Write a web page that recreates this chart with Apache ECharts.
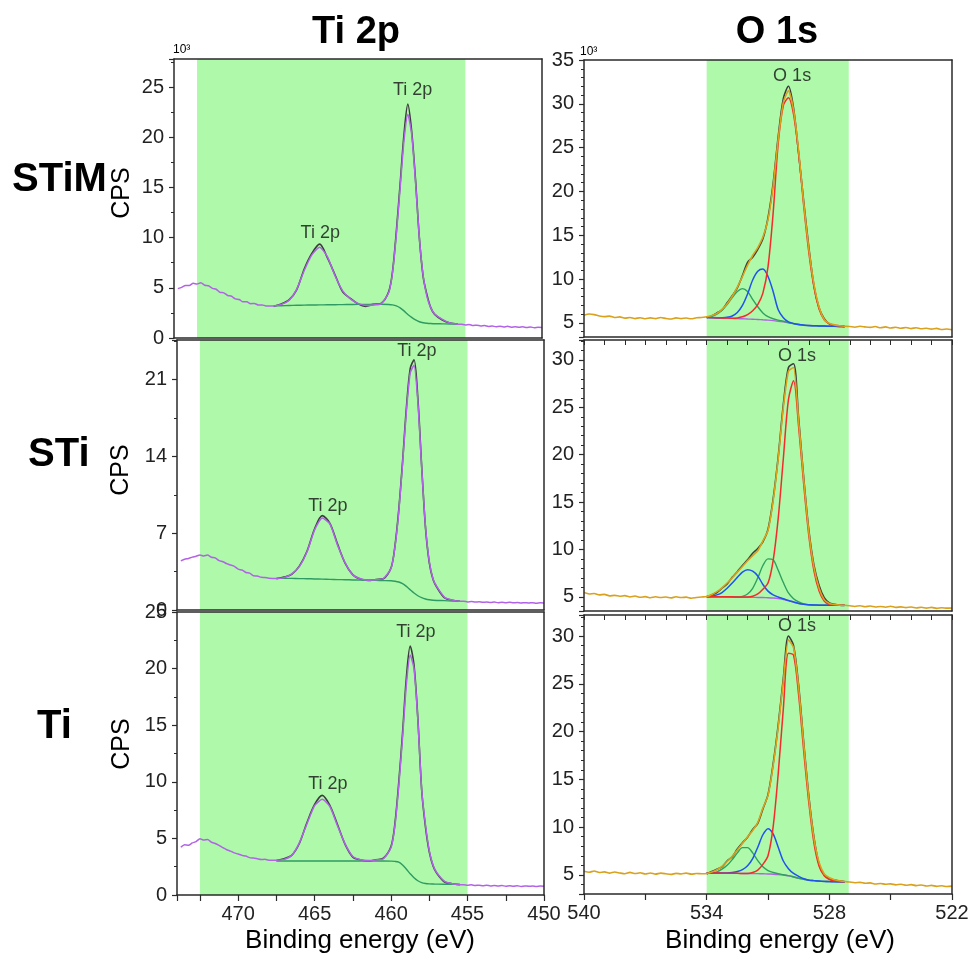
<!DOCTYPE html>
<html>
<head>
<meta charset="utf-8">
<script src="https://cdn.jsdelivr.net/npm/echarts@6/dist/echarts.min.js"></script>
<style>html,body{margin:0;padding:0;background:#fff}#c{width:972px;height:956px}</style>
</head>
<body>
<div id="c"></div>
<script>
// ---------- energy grids ----------
const tiOuterL = [473.75,473.5,473.25,473,472.75,472.5,472.25,472,471.75,471.5,471.25,471,
  470.75,470.5,470.25,470,469.75,469.5,469.25,469,468.75,468.5,468.25,468];
const tiFitE = [467.5,467,466.5,466,465.5,465,464.5,464,463.5,463,462.5,462,461.5,461,460.5,460,
  459.75,459.5,459.25,459,458.75,458.5,458.25,458,457.75,457.5,457.25,457,456.5,456,455.5];
const tiOuterR = [455.25,455,454.75,454.5,454.25,454,453.75,453.5,453.25,453,452.75,452.5,
  452.25,452,451.75,451.5,451.25,451,450.75,450.5,450.25,450];
const tiE = tiOuterL.concat(tiFitE, tiOuterR);

const oOuterL = [540,539.75,539.5,539.25,539,538.75,538.5,538.25,538,537.75,537.5,537.25,
  537,536.75,536.5,536.25,536,535.75,535.5,535.25,535,534.75,534.5,534.25];
const oFitE = [534,533.75,533.5,533.25,533,532.75,532.5,532.25,532,531.75,531.5,531.25,531,530.75,
  530.5,530.25,530,529.75,529.5,529.25,529,528.75,528.5,528.25,528,527.75,527.5,527.25];
const oOuterR = [527,526.75,526.5,526.25,526,525.75,525.5,525.25,525,524.75,524.5,524.25,
  524,523.75,523.5,523.25,523,522.75,522.5,522.25,522];
const oE = oOuterL.concat(oFitE, oOuterR);

// ---------- Ti 2p (×10^3 CPS) ----------
const tiPurpleSTiM = [4.92,5.05,5.24,5.22,5.45,5.38,5.5,5.26,5.2,4.95,4.86,4.55,4.5,4.24,4.16,3.9,3.84,3.6,3.6,3.42,3.44,3.28,3.3,3.2,
  3.2,3.35,3.75,4.85,6.75,8.3,9.05,8.1,6.2,4.7,3.9,3.45,3.25,3.3,3.4,4.5,
  6.5,10.3,15.0,19.7,22.3,20.3,15.6,10.0,6.2,4.1,3.0,2.4,1.85,1.5,1.38,
  1.36,1.3,1.35,1.24,1.28,1.2,1.24,1.15,1.2,1.12,1.18,1.1,1.16,1.08,1.12,1.06,1.11,1.04,1.09,1.03,1.07,1.04];
const tiRawSTiM = [3.15,3.4,3.8,4.8,6.9,8.45,9.35,8.0,6.3,4.6,3.95,3.4,3.15,3.35,3.45,4.6,
  6.6,10.6,15.4,20.3,23.3,20.6,15.8,10.0,6.1,4.3,3.0,2.35,1.8,1.5,1.4];
const tiBaseSTiM = [3.2,3.22,3.24,3.26,3.28,3.29,3.3,3.31,3.32,3.33,3.34,3.35,3.35,3.36,3.36,3.34,
  3.3,3.2,3.0,2.7,2.35,2.05,1.8,1.62,1.52,1.47,1.44,1.42,1.41,1.4,1.4];

const tiPurpleSTi = [4.48,4.62,4.7,4.82,4.9,5.02,4.92,5.0,4.8,4.75,4.5,4.4,4.22,4.1,3.98,3.72,3.64,3.42,3.36,3.12,3.1,2.98,2.96,2.9,
  2.87,2.95,3.3,3.95,5.3,7.3,8.38,7.84,5.9,4.3,3.2,2.85,2.72,2.75,2.87,3.8,
  5.7,8.9,13.3,18.1,21.6,22.3,19.0,13.0,7.6,4.4,2.8,2.1,1.15,0.9,0.8,
  0.8,0.74,0.78,0.72,0.75,0.7,0.73,0.68,0.72,0.67,0.7,0.66,0.7,0.65,0.68,0.64,0.67,0.63,0.67,0.62,0.66,0.64];
const tiRawSTi = [2.85,3.0,3.25,4.0,5.35,7.4,8.6,7.9,6.0,4.25,3.2,2.8,2.7,2.78,2.85,3.85,
  5.8,9.1,13.5,18.4,22.0,22.8,19.3,13.1,7.5,4.3,2.75,2.05,1.1,0.88,0.8];
const tiBaseSTi = [2.9,2.89,2.88,2.86,2.85,2.83,2.81,2.79,2.77,2.76,2.74,2.72,2.71,2.7,2.68,2.66,
  2.62,2.55,2.4,2.15,1.85,1.55,1.3,1.12,1.0,0.93,0.89,0.87,0.85,0.82,0.8];

const tiPurpleTi = [4.22,4.45,4.4,4.6,4.72,4.98,4.85,4.9,4.66,4.55,4.38,4.18,4.0,3.88,3.72,3.62,3.5,3.44,3.3,3.26,3.2,3.14,3.15,3.08,
  3.08,3.15,3.5,4.6,6.3,7.9,8.45,7.8,6.1,4.5,3.4,3.12,3.05,3.1,3.2,4.2,
  6.1,9.6,13.9,18.6,21.2,20.0,15.5,9.3,6.2,3.9,2.6,1.95,1.2,1.0,0.9,
  0.9,0.86,0.9,0.84,0.87,0.82,0.86,0.8,0.84,0.79,0.83,0.78,0.82,0.78,0.81,0.76,0.8,0.77,0.79,0.75,0.79,0.77];
const tiRawTi = [3.05,3.2,3.5,4.55,6.4,8.0,8.8,7.9,6.2,4.45,3.35,3.1,3.0,3.12,3.25,4.3,
  6.3,9.9,14.3,19.2,22.0,20.3,15.6,9.3,6.0,3.8,2.55,1.9,1.15,1.0,0.9];
const tiBaseTi = [3.0,3.0,3.0,3.01,3.01,3.01,3.01,3.0,3.0,3.0,3.0,3.0,3.0,3.0,3.0,2.99,
  2.97,2.9,2.65,2.28,1.88,1.52,1.26,1.1,1.02,0.98,0.97,0.96,0.95,0.95,0.95];

// ---------- O 1s (×10^3 CPS) ----------
const oOrangeSTiM = [5.88,6.02,5.95,5.8,5.72,5.78,5.62,5.7,5.55,5.62,5.5,5.6,5.48,5.58,5.5,5.62,5.52,5.45,5.58,5.5,5.56,5.48,5.6,5.62,
  5.72,5.85,6.1,6.55,7.2,8.05,9.1,10.3,11.6,12.7,13.6,14.8,16.8,20.6,26.0,30.2,31.5,29.3,24.6,18.6,
  13.4,9.4,6.8,5.4,4.95,4.78,4.68,4.62,
  4.6,4.52,4.62,4.55,4.5,4.6,4.45,4.55,4.42,4.52,4.4,4.48,4.36,4.46,4.34,4.4,4.3,4.38,4.26,4.32,4.22];
const oRawSTiM = [5.6,5.8,6.15,6.5,7.3,8.1,9.0,10.4,11.9,12.5,13.4,14.6,17.0,20.9,26.3,30.6,32.0,29.5,24.3,18.8,
  13.6,9.2,6.7,5.5,4.9,4.7,4.65,4.6];
const oRedSTiM = [5.65,5.62,5.6,5.58,5.56,5.55,5.58,5.7,5.95,6.4,7.1,8.4,11.4,17.5,25.5,29.8,30.7,28.8,24.3,18.3,
  13.0,9.1,6.6,5.35,4.9,4.75,4.68,4.65];
const oBlueSTiM = [5.62,5.6,5.58,5.6,5.65,5.8,6.2,7.0,8.3,9.9,10.9,11.15,10.3,8.6,6.5,5.6,5.12,4.95,4.82,4.75,
  4.7,4.68,4.66,4.65,4.63,4.62,4.6,4.58];
const oGreenSTiM = [5.66,5.75,6.0,6.45,7.1,7.9,8.6,8.92,8.6,7.7,6.85,6.15,5.72,5.48,5.33,5.2,5.05,4.93,4.82,4.75,
  4.7,4.68,4.66,4.65,4.63,4.62,4.6,4.58];
const oBaseSTiM = [5.65,5.63,5.61,5.59,5.56,5.53,5.5,5.48,5.45,5.43,5.4,5.36,5.32,5.27,5.2,5.12,5.03,4.93,4.83,4.76,
  4.71,4.68,4.66,4.65,4.63,4.62,4.6,4.58];

const oOrangeSTi = [5.45,5.3,5.35,5.2,5.25,5.1,5.15,5.05,5.12,4.98,5.08,4.95,5.02,4.9,5.0,4.92,4.98,4.88,5.0,4.92,4.96,4.85,4.92,4.98,
  5.03,5.25,5.55,5.95,6.45,7.0,7.6,8.2,8.8,9.35,9.85,10.9,12.0,15.1,19.6,25.0,28.8,29.2,23.5,17.3,
  11.8,8.1,5.9,4.7,4.3,4.18,4.12,4.1,
  4.05,3.98,4.06,3.95,4.02,3.92,3.98,3.9,4.0,3.88,3.94,3.86,3.92,3.82,3.9,3.8,3.88,3.78,3.85,3.8,3.82];
const oRawSTi = [5.0,5.2,5.45,5.9,6.35,7.05,7.65,8.3,8.9,9.6,10.1,10.8,12.1,15.3,19.8,25.3,29.2,29.6,23.8,17.5,
  12.0,8.3,6.2,4.9,4.35,4.2,4.1,4.08];
const oRedSTi = [5.0,5.0,5.0,5.0,5.0,5.0,4.98,4.97,4.97,5.05,5.3,5.8,6.45,8.8,13.3,19.6,25.8,27.8,22.9,16.8,
  11.4,7.7,5.6,4.55,4.2,4.12,4.1,4.1];
const oBlueSTi = [5.02,5.06,5.2,5.45,5.9,6.45,7.05,7.6,7.85,7.7,7.2,6.3,5.6,5.2,4.98,4.8,4.6,4.45,4.3,4.2,
  4.15,4.13,4.12,4.11,4.1,4.1,4.1,4.1];
const oGreenSTi = [5.0,5.0,5.0,5.0,4.99,4.98,4.98,5.05,5.3,5.9,7.0,8.3,9.0,8.9,7.8,6.5,5.4,4.8,4.45,4.25,
  4.15,4.13,4.12,4.11,4.1,4.1,4.1,4.1];
const oBaseSTi = [5.0,5.0,4.99,4.99,4.98,4.97,4.96,4.95,4.95,4.94,4.93,4.92,4.9,4.87,4.82,4.72,4.6,4.45,4.3,4.2,
  4.15,4.13,4.12,4.11,4.1,4.1,4.1,4.1];

const oOrangeTi = [5.38,5.28,5.4,5.25,5.32,5.18,5.3,5.2,5.12,5.26,5.14,5.22,5.1,5.2,5.08,5.18,5.12,5.05,5.16,5.1,5.18,5.08,5.14,5.12,
  5.14,5.3,5.55,5.9,6.4,6.95,7.6,8.3,9.0,9.65,10.5,12.0,13.3,16.4,20.5,25.3,29.6,28.8,24.6,18.6,
  13.0,8.8,6.3,5.1,4.7,4.5,4.38,4.3,
  4.25,4.18,4.22,4.12,4.16,4.05,4.1,4.02,4.06,3.96,4.02,3.92,3.98,3.88,3.94,3.84,3.9,3.8,3.86,3.78,3.82];
const oRawTi = [5.1,5.35,5.6,5.85,6.45,6.9,7.7,8.35,8.95,9.75,10.4,11.9,13.4,16.6,20.7,25.6,30.0,29.0,24.8,18.8,
  13.2,8.9,6.1,5.0,4.6,4.45,4.35,4.3];
const oRedTi = [5.2,5.2,5.19,5.18,5.17,5.16,5.16,5.15,5.15,5.25,5.5,6.1,7.0,10.0,15.6,22.4,28.2,28.0,23.8,17.9,
  12.5,8.3,5.9,4.9,4.5,4.35,4.3,4.28];
const oBlueTi = [5.2,5.2,5.19,5.19,5.2,5.25,5.35,5.55,5.95,6.7,7.9,9.2,9.84,9.3,7.9,6.45,5.65,5.15,4.85,4.6,
  4.45,4.4,4.35,4.32,4.3,4.29,4.28,4.26];
const oGreenTi = [5.2,5.22,5.32,5.6,6.0,6.6,7.3,7.85,7.85,7.3,6.5,5.85,5.45,5.25,5.12,5.02,4.92,4.8,4.65,4.55,
  4.45,4.4,4.35,4.32,4.3,4.29,4.28,4.26];
const oBaseTi = [5.2,5.2,5.19,5.19,5.18,5.17,5.16,5.15,5.15,5.14,5.13,5.12,5.1,5.07,5.03,4.97,4.9,4.78,4.65,4.54,
  4.45,4.4,4.35,4.32,4.3,4.29,4.28,4.26];

// ---------- fit windows, axis ranges, labels ----------
const tiBand = [472.5, 455];
const oBand = [534, 527.05];
const tiRange = [450, 474];
const oRange = [522, 540];
const yRangeTi = [[0, 27.8], [0, 24.6], [0, 25]];
const yStepTi = [5, 7, 5];
const yRangeO = [[3.4, 35], [3.5, 32.1], [3.0, 32.2]];
const yStepO = [5, 5, 5];
const tiPeakLabelPos = [[[458.44, 24.7], [464.46, 10.46]], [[458.31, 23.6], [464.13, 9.45]], [[458.38, 23.2], [464.13, 9.8]]];
const oPeakLabelPos = [[529.82, 33.2], [529.58, 30.4], [529.58, 31.05]];
const rowNames = ['STiM', 'STi', 'Ti'];
const colTitles = ['Ti 2p', 'O 1s'];
const peakTi = 'Ti 2p', peakO = 'O 1s';
const xName = 'Binding energy (eV)', yName = 'CPS', yUnit = '10³';

// ---------- style ----------
const FONT = '"Liberation Sans", Arial, Helvetica, sans-serif';
const AX = '#2a2a2a';
const C = {band:'#aefaaa', purple:'#b262e6', raw:'#3c3c3c', tiBase:'#2f9a63',
  orange:'#d9a11c', red:'#f52a2a', blue:'#2052ee', oGreen:'#30a060', oBase:'#b262e6'};

const tiRows = [
  {purple:tiPurpleSTiM, raw:tiRawSTiM, base:tiBaseSTiM},
  {purple:tiPurpleSTi, raw:tiRawSTi, base:tiBaseSTi},
  {purple:tiPurpleTi, raw:tiRawTi, base:tiBaseTi}];
const oRows = [
  {orange:oOrangeSTiM, raw:oRawSTiM, red:oRedSTiM, blue:oBlueSTiM, green:oGreenSTiM, base:oBaseSTiM},
  {orange:oOrangeSTi, raw:oRawSTi, red:oRedSTi, blue:oBlueSTi, green:oGreenSTi, base:oBaseSTi},
  {orange:oOrangeTi, raw:oRawTi, red:oRedTi, blue:oBlueTi, green:oGreenTi, base:oBaseTi}];

const gridsTi = [{left:174,top:59,width:368,height:279},{left:177,top:340,width:367,height:270},{left:177,top:612,width:367,height:283}];
const gridsO = [{left:584,top:60,width:368,height:277},{left:584,top:340,width:368,height:271},{left:584,top:615,width:368,height:279}];

function near(v, step){ const q = v/step; return Math.abs(q - Math.round(q)) < 1e-6; }
function pairs(es, vs){ return es.map((e,k)=>[e, vs[k]]); }

const grids=[], xAxes=[], yAxes=[], series=[];

function addPanel(kind, row){
  const i = grids.length;
  const isTi = kind === 'ti';
  const g = isTi ? gridsTi[row] : gridsO[row];
  grids.push(Object.assign({containLabel:false}, g));
  const xr = isTi ? tiRange : oRange;
  const xStep = isTi ? 2.5 : 3, xLab = isTi ? 5 : 6;
  const bottom = row === 2;
  const yr = isTi ? yRangeTi[row] : yRangeO[row];
  const ys = isTi ? yStepTi[row] : yStepO[row];
  xAxes.push({type:'value', gridIndex:i, position:'bottom', min:xr[0], max:xr[1], inverse:true, interval:xStep, z:10,
    axisLine:{show:true, onZero:false, lineStyle:{color:AX, width:1.5}},
    axisTick:{show:bottom, length:6, lineStyle:{color:AX, width:1.2}},
    axisLabel:{show:bottom, margin:9, fontSize:20, color:'#222', fontFamily:FONT, formatter:v=>near(v,xLab)?String(v):''},
    splitLine:{show:false}});
  xAxes.push({type:'value', gridIndex:i, position:'top', min:xr[0], max:xr[1], inverse:true, interval:isTi?2.5:1, z:10,
    axisLine:{show:true, onZero:false, lineStyle:{color:AX, width:1.5}},
    axisTick:{show:(!isTi && row>0), inside:true, length:5, lineStyle:{color:AX, width:1}},
    axisLabel:{show:false}, splitLine:{show:false}});
  const yA = {type:'value', gridIndex:i, position:'left', min:yr[0], max:yr[1], z:10,
    axisLine:{show:true, onZero:false, lineStyle:{color:AX, width:1.5}},
    axisTick:{show:true, length:5, lineStyle:{color:AX, width:1.2}},
    minorTick:{show:true, splitNumber:isTi?2:5, length:3, lineStyle:{color:AX, width:1}},
    axisLabel:{margin:10, fontSize:20, color:'#222', fontFamily:FONT, formatter:v=>near(v,ys)?String(Math.round(v)):''},
    splitLine:{show:false}};
  if (near(yr[0], ys)) yA.interval = ys; else yA.splitNumber = 6;
  yAxes.push(yA);
  yAxes.push({type:'value', gridIndex:i, position:'right', min:yr[0], max:yr[1], z:10,
    axisLine:{show:true, onZero:false, lineStyle:{color:AX, width:1.5}},
    axisTick:{show:false}, axisLabel:{show:false}, splitLine:{show:false}});
  const xi = 2*i, yi = 2*i;
  const band = isTi ? tiBand : oBand;
  series.push({type:'line', xAxisIndex:xi, yAxisIndex:yi, data:[[band[0], yr[0]]], symbol:'none',
    lineStyle:{width:0, opacity:0}, silent:true, z:1,
    markArea:{silent:true, itemStyle:{color:C.band, opacity:1}, label:{show:false},
      data:[[{xAxis:band[0]},{xAxis:band[1]}]]}});
  const line = (es, vs, color, width, z, sm) => ({type:'line', xAxisIndex:xi, yAxisIndex:yi, data:pairs(es, vs),
    symbol:'none', smooth:(sm===undefined?0.3:sm), lineStyle:{color, width}, itemStyle:{color}, z, silent:true});
  let labelData;
  if (isTi){
    const d = tiRows[row];
    series.push(line(tiFitE, d.raw, C.raw, 1.6, 2));
    series.push(line(tiFitE, d.base, C.tiBase, 1.4, 3));
    series.push(line(tiE, d.purple, C.purple, 1.5, 4, 0.2));
    labelData = tiPeakLabelPos[row].map(p=>({name:peakTi, value:p}));
  } else {
    const d = oRows[row];
    series.push(line(oFitE, d.raw, C.raw, 1.6, 2));
    series.push(line(oFitE, d.base, C.oBase, 1.4, 3));
    series.push(line(oFitE, d.green, C.oGreen, 1.4, 3));
    series.push(line(oFitE, d.blue, C.blue, 1.5, 3));
    series.push(line(oFitE, d.red, C.red, 1.5, 4));
    series.push(line(oE, d.orange, C.orange, 1.6, 5, 0.2));
    labelData = [{name:peakO, value:oPeakLabelPos[row]}];
  }
  series.push({type:'scatter', xAxisIndex:xi, yAxisIndex:yi, data:labelData, symbolSize:1,
    itemStyle:{color:'rgba(0,0,0,0)'}, silent:true, z:12,
    label:{show:true, position:'inside', formatter:'{b}', fontSize:18, color:'#111', fontFamily:FONT}});
}

for (let r=0; r<3; r++){ addPanel('ti', r); addPanel('o', r); }

const txt = (x, y, text, font, align, extra) => Object.assign({type:'text', x, y, z:100,
  style:{text, font, fill:'#000', align, verticalAlign:'middle', textAlign:align, textVerticalAlign:'middle'}}, extra||{});

const graphic = [
  txt(356, 33, colTitles[0], 'bold 38px ' + FONT, 'center'),
  txt(777, 33, colTitles[1], 'bold 38px ' + FONT, 'center'),
  txt(12, 180, rowNames[0], 'bold 40px ' + FONT, 'left'),
  txt(28, 455, rowNames[1], 'bold 40px ' + FONT, 'left'),
  txt(37, 727, rowNames[2], 'bold 40px ' + FONT, 'left'),
  txt(122, 193, yName, '25px ' + FONT, 'center', {rotation:Math.PI/2}),
  txt(121, 470, yName, '25px ' + FONT, 'center', {rotation:Math.PI/2}),
  txt(122, 744, yName, '25px ' + FONT, 'center', {rotation:Math.PI/2}),
  txt(173, 50, yUnit, '12px ' + FONT, 'left'),
  txt(580, 52, yUnit, '12px ' + FONT, 'left'),
  txt(360, 941, xName, '26px ' + FONT, 'center'),
  txt(780, 941, xName, '26px ' + FONT, 'center')
];

const chart = echarts.init(document.getElementById('c'), null, {renderer:'canvas'});
chart.setOption({
  animation:false,
  backgroundColor:'#fff',
  textStyle:{fontFamily:FONT},
  grid:grids, xAxis:xAxes, yAxis:yAxes, series, graphic
});
</script>
</body>
</html>
